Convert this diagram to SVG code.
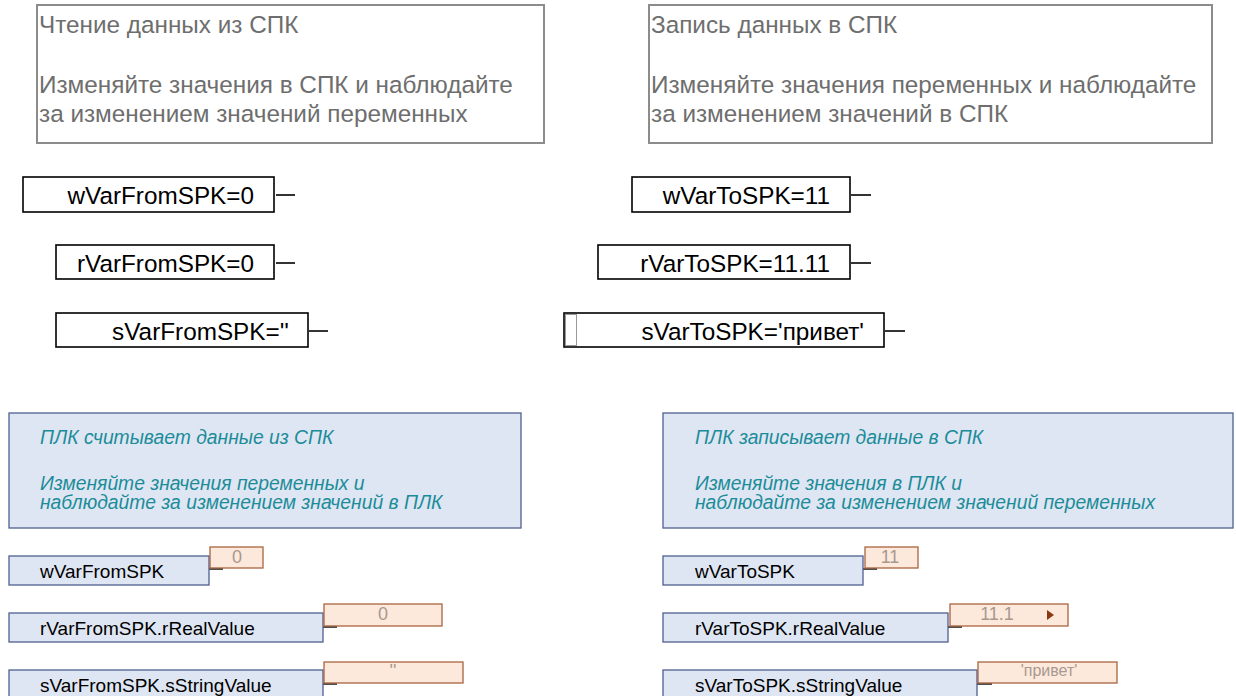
<svg xmlns="http://www.w3.org/2000/svg" width="1236" height="696" viewBox="0 0 1236 696">
<style>
.cm{fill:#fff;stroke:#8c8c8c;stroke-width:2}
.cmt{font-family:"Liberation Sans",Arial,sans-serif;font-size:24.3px;fill:#6e6e6e}
.vb{fill:#fff;stroke:#000;stroke-width:1.6}
.vt{font-family:"Liberation Sans",Arial,sans-serif;font-size:24.3px;fill:#000;text-anchor:end}
.ln{stroke:#000;stroke-width:1.6;fill:none}
.bc{fill:#dfe6f3;stroke:#4f6090;stroke-width:1.3}
.bct{font-family:"Liberation Sans",Arial,sans-serif;font-size:19.3px;font-style:italic;fill:#1b8c99}
.bb{fill:#dfe6f3;stroke:#4f6090;stroke-width:1.3}
.bbt{font-family:"Liberation Sans",Arial,sans-serif;font-size:19px;fill:#000}
.ob{fill:#fde9dc;stroke:#a86440;stroke-width:1.3}
.obt{font-family:"Liberation Sans",Arial,sans-serif;font-size:18px;fill:#a89890;text-anchor:middle}
.dl{stroke:#222;stroke-width:1.6}
</style>
<g id="comment-read">
<rect class="cm" x="37" y="5" width="507" height="138"/>
<text class="cmt" x="39" y="33">Чтение данных из СПК</text>
<text class="cmt" x="39" y="93">Изменяйте значения в СПК и наблюдайте</text>
<text class="cmt" x="39" y="122">за изменением значений переменных</text>
</g>
<g id="comment-write">
<rect class="cm" x="649" y="5" width="563" height="138"/>
<text class="cmt" x="651" y="33">Запись данных в СПК</text>
<text class="cmt" x="651" y="93">Изменяйте значения переменных и наблюдайте</text>
<text class="cmt" x="651" y="122">за изменением значений в СПК</text>
</g>
<g id="connectors">
<line class="ln" x1="276" y1="195" x2="295" y2="195"/>
<line class="ln" x1="276" y1="263" x2="295" y2="263"/>
<line class="ln" x1="309" y1="331" x2="328" y2="331"/>
<line class="ln" x1="851" y1="195" x2="871" y2="195"/>
<line class="ln" x1="851" y1="263" x2="871" y2="263"/>
<line class="ln" x1="885" y1="331" x2="905" y2="331"/>
<line class="dl" x1="209" y1="569" x2="223" y2="569"/>
<line class="dl" x1="323" y1="627" x2="337" y2="627"/>
<line class="dl" x1="323" y1="684" x2="337" y2="684"/>
<line class="dl" x1="863" y1="569" x2="877" y2="569"/>
<line class="dl" x1="948" y1="627" x2="962" y2="627"/>
<line class="dl" x1="977" y1="684" x2="992" y2="684"/>
</g>
<g id="wVarFromSPK-in">
<rect class="vb" x="23" y="177" width="251" height="35"/>
<text class="vt" x="254" y="204">wVarFromSPK=0</text>
</g>
<g id="rVarFromSPK-in">
<rect class="vb" x="56" y="245" width="218" height="34"/>
<text class="vt" x="254" y="272">rVarFromSPK=0</text>
</g>
<g id="sVarFromSPK-in">
<rect class="vb" x="56" y="313" width="252" height="34"/>
<text class="vt" x="289" y="340">sVarFromSPK=''</text>
</g>
<g id="wVarToSPK-in">
<rect class="vb" x="632" y="177" width="218" height="35"/>
<text class="vt" x="830" y="204">wVarToSPK=11</text>
</g>
<g id="rVarToSPK-in">
<rect class="vb" x="598" y="245" width="252" height="34"/>
<text class="vt" x="830" y="272">rVarToSPK=11.11</text>
</g>
<g id="sVarToSPK-in">
<rect class="vb" x="564" y="313" width="320" height="34"/>
<rect x="565.5" y="314.5" width="11" height="31" fill="none" stroke="#333" stroke-width="1" stroke-dasharray="1,1"/>
<text class="vt" x="864" y="340">sVarToSPK='привет'</text>
</g>
<g id="comment-plc-read">
<rect class="bc" x="9" y="413" width="512" height="115"/>
<text class="bct" x="40" y="444">ПЛК считывает данные из СПК</text>
<text class="bct" x="40" y="490">Изменяйте значения переменных и</text>
<text class="bct" x="40" y="509">наблюдайте за изменением значений в ПЛК</text>
</g>
<g id="comment-plc-write">
<rect class="bc" x="663" y="413" width="570" height="115"/>
<text class="bct" x="695" y="444">ПЛК записывает данные в СПК</text>
<text class="bct" x="695" y="490">Изменяйте значения в ПЛК и</text>
<text class="bct" x="695" y="509">наблюдайте  за изменением  значений переменных</text>
</g>
<g id="wVarFromSPK">
<rect class="bb" x="9" y="556" width="200" height="29"/>
<text class="bbt" x="40" y="578">wVarFromSPK</text>
<rect class="ob" x="210" y="547" width="53" height="21"/>
<text class="obt" x="237" y="563">0</text>
</g>
<g id="rVarFromSPK">
<rect class="bb" x="9" y="613" width="314" height="29"/>
<text class="bbt" x="40" y="635">rVarFromSPK.rRealValue</text>
<rect class="ob" x="324" y="604" width="118" height="22"/>
<text class="obt" x="383" y="620">0</text>
</g>
<g id="sVarFromSPK">
<rect class="bb" x="9" y="670" width="314" height="30"/>
<text class="bbt" x="40" y="692">sVarFromSPK.sStringValue</text>
<rect class="ob" x="324" y="662" width="139" height="21"/>
<text class="obt" x="393" y="677">''</text>
</g>
<g id="wVarToSPK">
<rect class="bb" x="663" y="556" width="200" height="29"/>
<text class="bbt" x="695" y="578">wVarToSPK</text>
<rect class="ob" x="865" y="547" width="53" height="21"/>
<text class="obt" x="890" y="563">11</text>
</g>
<g id="rVarToSPK">
<rect class="bb" x="663" y="613" width="285" height="29"/>
<text class="bbt" x="695" y="635">rVarToSPK.rRealValue</text>
<rect class="ob" x="950" y="604" width="118" height="22"/>
<text class="obt" x="997" y="620">11.1</text>
<path d="M1047 610 L1054 615 L1047 620 Z" fill="#8a3a10"/>
</g>
<g id="sVarToSPK">
<rect class="bb" x="663" y="670" width="314" height="30"/>
<text class="bbt" x="695" y="692">sVarToSPK.sStringValue</text>
<rect class="ob" x="978" y="662" width="139" height="21"/>
<text class="obt" x="1049" y="676" style="font-size:16px">'привет'</text>
</g>
</svg>
